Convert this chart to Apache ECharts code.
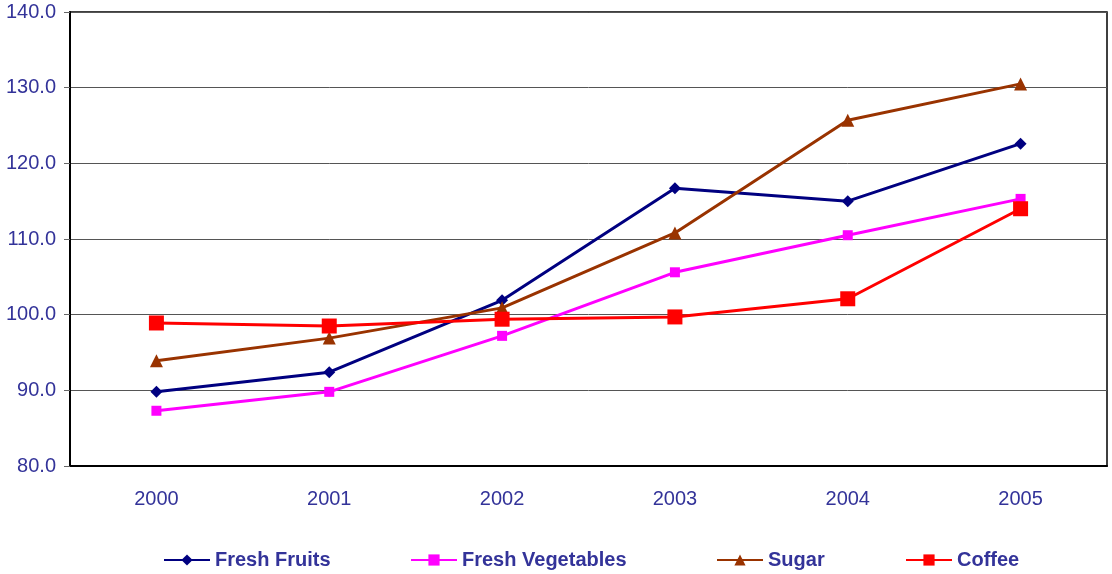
<!DOCTYPE html>
<html>
<head>
<meta charset="utf-8">
<script src="https://cdn.jsdelivr.net/npm/echarts@6/dist/echarts.min.js"></script>
<style>
  html, body { margin: 0; padding: 0; background: #fff; }
  #chart { width: 1112px; height: 574px; }
</style>
</head>
<body>
<div id="chart"></div>
<script>
var years = ['2000', '2001', '2002', '2003', '2004', '2005'];
var freshFruits = [89.8, 92.4, 101.9, 116.7, 115.0, 122.6];
var freshVegetables = [87.3, 89.8, 97.2, 105.6, 110.5, 115.3];
var sugar = [93.9, 96.9, 100.9, 110.8, 125.7, 130.5];
var coffee = [98.9, 98.5, 99.4, 99.7, 102.1, 114.0];

var textColor = '#333399';
var font = 'Liberation Sans, Arial, sans-serif';

function legendFor(name, left) {
    return {
        data: [name],
        left: left,
        top: 545,
        itemWidth: 46,
        itemHeight: 14,
        itemGap: 4,
        textStyle: { color: textColor, fontSize: 20, fontWeight: 'bold', fontFamily: font }
    };
}

var chart = echarts.init(document.getElementById('chart'));
chart.setOption({
    animation: false,
    grid: {
        left: 70, right: 5, top: 12, bottom: 108,
        show: true, borderColor: '#000', borderWidth: 1.5
    },
    legend: [
        legendFor('Fresh Fruits', 158),
        legendFor('Fresh Vegetables', 405),
        legendFor('Sugar', 711),
        legendFor('Coffee', 900)
    ],
    xAxis: {
        type: 'category',
        data: years,
        boundaryGap: true,
        axisLine: { lineStyle: { color: '#000', width: 2 } },
        axisTick: { length: 6, lineStyle: { color: '#000', width: 1 } },
        axisLabel: { color: textColor, fontSize: 20, fontFamily: font, margin: 23 }
    },
    yAxis: {
        type: 'value',
        min: 80, max: 140, interval: 10,
        axisLine: { show: true, lineStyle: { color: '#000', width: 2 } },
        axisTick: { show: true, length: 6, lineStyle: { color: '#666' } },
        axisLabel: {
            color: textColor, fontSize: 20, fontFamily: font, margin: 14,
            formatter: function (v) { return v.toFixed(1); }
        },
        splitLine: { lineStyle: { color: '#555', width: 1 } }
    },
    series: [
        {
            name: 'Fresh Fruits', type: 'line', data: freshFruits,
            symbol: 'diamond', symbolSize: 12,
            lineStyle: { color: '#000080', width: 3 },
            itemStyle: { color: '#000080' }
        },
        {
            name: 'Fresh Vegetables', type: 'line', data: freshVegetables,
            symbol: 'rect', symbolSize: 10,
            lineStyle: { color: '#ff00ff', width: 3 },
            itemStyle: { color: '#ff00ff' }
        },
        {
            name: 'Sugar', type: 'line', data: sugar,
            symbol: 'triangle', symbolSize: 13,
            lineStyle: { color: '#993300', width: 3 },
            itemStyle: { color: '#993300' }
        },
        {
            name: 'Coffee', type: 'line', data: coffee,
            symbol: 'rect', symbolSize: 15,
            lineStyle: { color: '#ff0000', width: 3 },
            itemStyle: { color: '#ff0000' }
        }
    ]
});
</script>
</body>
</html>
